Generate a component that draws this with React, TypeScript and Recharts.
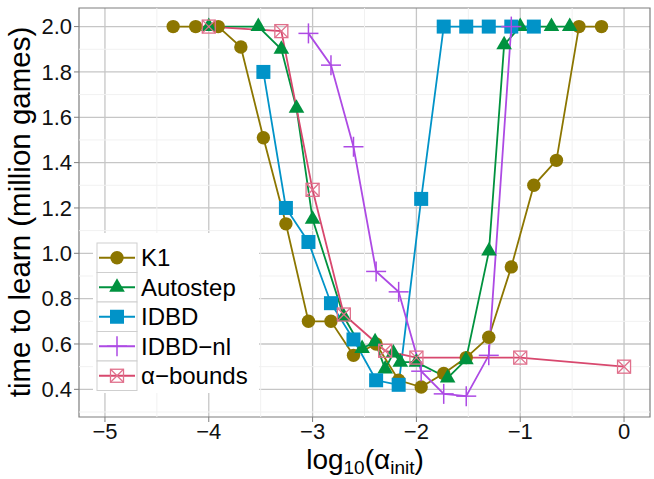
import React from 'react';
import { LineChart, Line, XAxis, YAxis, CartesianGrid, ReferenceLine, ReferenceArea } from 'recharts';

// ---------- data ----------
const SERIES_NAMES = ['K1', 'Autostep', 'IDBD', 'IDBD−nl', 'α−bounds'];

const K1_X = [-4.343, -4.126, -3.909, -3.691, -3.474, -3.257, -3.040, -2.823, -2.606, -2.388, -2.171, -1.954, -1.737, -1.520, -1.303, -1.086, -0.869, -0.651, -0.434, -0.217];
const K1_Y = [2.0, 2.0, 2.0, 1.91, 1.51, 1.13, 0.70, 0.70, 0.55, 0.60, 0.44, 0.41, 0.47, 0.54, 0.63, 0.94, 1.30, 1.41, 2.0, 2.0];

const AUTOSTEP_X = [-4.0, -3.523, -3.301, -3.155, -3.0, -2.699, -2.523, -2.398, -2.301, -2.222, -2.155, -2.0, -1.699, -1.523, -1.301, -1.155, -1.0, -0.699, -0.523];
const AUTOSTEP_Y = [2.0, 2.0, 1.90, 1.64, 1.15, 0.72, 0.58, 0.61, 0.49, 0.56, 0.52, 0.52, 0.45, 0.53, 1.01, 1.92, 2.0, 2.0, 2.0];

const IDBD_X = [-3.474, -3.257, -3.040, -2.823, -2.606, -2.388, -2.171, -1.954, -1.737, -1.520, -1.303, -1.086, -0.869];
const IDBD_Y = [1.80, 1.20, 1.05, 0.78, 0.62, 0.44, 0.42, 1.24, 2.0, 2.0, 2.0, 2.0, 2.0];

const IDBDNL_X = [-3.040, -2.823, -2.606, -2.388, -2.171, -1.954, -1.737, -1.520, -1.303, -1.086];
const IDBDNL_Y = [1.97, 1.83, 1.47, 0.92, 0.83, 0.48, 0.38, 0.37, 0.55, 2.0];

const ABOUNDS_X = [-4.0, -3.301, -3.0, -2.699, -2.301, -2.0, -1.0, 0.0];
const ABOUNDS_Y = [2.0, 1.98, 1.28, 0.73, 0.57, 0.54, 0.54, 0.50];

const X_TICKS = [-5, -4, -3, -2, -1, 0];
const Y_TICKS = [0.4, 0.6, 0.8, 1.0, 1.2, 1.4, 1.6, 1.8, 2.0];
const X_MINOR = [-4.5, -3.5, -2.5, -1.5, -0.5];
const Y_MINOR = [0.3, 0.5, 0.7, 0.9, 1.1, 1.3, 1.5, 1.7, 1.9];

const Y_TITLE = 'time to learn (million games)';

// ---------- helpers ----------
const toPts = (xs: number[], ys: number[]) => xs.map((x, i) => ({ x, y: ys[i] }));

const C_K1 = '#8C7600';
const C_AUTO = '#00923F';
const C_IDBD = '#0193C8';
const C_NL = '#AD4AE4';
const C_AB = '#D8486E';
const C_AB_MARK = '#E0708C';

const FONT = '"Liberation Sans", Arial, sans-serif';

type Shape = 'circle' | 'triangle' | 'square' | 'plus' | 'boxx';

const Marker = ({ shape, cx, cy, color }: { shape: Shape; cx: number; cy: number; color: string }) => {
  switch (shape) {
    case 'circle':
      return <circle cx={cx} cy={cy} r={6.7} fill={color} />;
    case 'triangle':
      return <polygon points={`${cx},${cy - 9} ${cx - 7.8},${cy + 4.5} ${cx + 7.8},${cy + 4.5}`} fill={color} />;
    case 'square':
      return <rect x={cx - 7} y={cy - 7} width={14} height={14} fill={color} />;
    case 'plus':
      return (
        <g stroke={color} strokeWidth={1.5}>
          <line x1={cx - 10} y1={cy} x2={cx + 10} y2={cy} />
          <line x1={cx} y1={cy - 10} x2={cx} y2={cy + 10} />
        </g>
      );
    case 'boxx':
      return (
        <g stroke={color} strokeWidth={1.3} fill="none">
          <rect x={cx - 6.5} y={cy - 6.5} width={13} height={13} />
          <line x1={cx - 6.5} y1={cy - 6.5} x2={cx + 6.5} y2={cy + 6.5} />
          <line x1={cx - 6.5} y1={cy + 6.5} x2={cx + 6.5} y2={cy - 6.5} />
        </g>
      );
  }
  return null;
};

const makeDot = (shape: Shape, color: string) => (props: any) => {
  const { cx, cy, index } = props;
  if (cx == null || cy == null) return <g key={`d-${index}`} />;
  return (
    <g key={`d-${shape}-${index}`}>
      <Marker shape={shape} cx={cx} cy={cy} color={color} />
    </g>
  );
};

const SERIES = [
  { name: SERIES_NAMES[0], data: toPts(K1_X, K1_Y), color: C_K1, mark: C_K1, shape: 'circle' as Shape },
  { name: SERIES_NAMES[1], data: toPts(AUTOSTEP_X, AUTOSTEP_Y), color: C_AUTO, mark: C_AUTO, shape: 'triangle' as Shape },
  { name: SERIES_NAMES[2], data: toPts(IDBD_X, IDBD_Y), color: C_IDBD, mark: C_IDBD, shape: 'square' as Shape },
  { name: SERIES_NAMES[3], data: toPts(IDBDNL_X, IDBDNL_Y), color: C_NL, mark: C_NL, shape: 'plus' as Shape },
  { name: SERIES_NAMES[4], data: toPts(ABOUNDS_X, ABOUNDS_Y), color: C_AB, mark: C_AB_MARK, shape: 'boxx' as Shape },
];

const X_DOMAIN: [number, number] = [-5.25, 0.25];
const Y_DOMAIN: [number, number] = [0.278, 2.082];

const fmtX = (v: number) => (v < 0 ? '−' + Math.abs(v) : String(v));
const fmtY = (v: number) => v.toFixed(1);

export default function App() {
  const W = 654;
  const H = 479;
  const legendLeft = 93;
  const legendTop = 233;
  const rowH = 29.5;
  return (
    <div style={{ position: 'absolute', left: 0, top: 0, width: W, height: H, background: '#fff', fontFamily: FONT }}>
      <LineChart width={W} height={H} margin={{ top: 8, right: 4, bottom: 0, left: 0 }}>
        {X_MINOR.map((v) => (
          <ReferenceLine key={`xm${v}`} x={v} stroke="#f1f1f1" strokeWidth={1} />
        ))}
        {Y_MINOR.map((v) => (
          <ReferenceLine key={`ym${v}`} y={v} stroke="#f1f1f1" strokeWidth={1} />
        ))}
        <CartesianGrid stroke="#c6c6c6" strokeWidth={1.3} horizontalValues={Y_TICKS} verticalValues={X_TICKS} />
        <XAxis
          type="number"
          dataKey="x"
          domain={X_DOMAIN}
          ticks={X_TICKS}
          allowDataOverflow
          height={62}
          tickSize={5}
          tickMargin={1}
          tickFormatter={fmtX}
          axisLine={false}
          tickLine={{ stroke: '#7f7f7f' }}
          tick={{ fill: '#111', fontSize: 22, fontFamily: FONT }}
        />
        <YAxis
          type="number"
          dataKey="y"
          domain={Y_DOMAIN}
          ticks={Y_TICKS}
          allowDataOverflow
          width={79}
          tickSize={5}
          tickMargin={2}
          tickFormatter={fmtY}
          axisLine={false}
          tickLine={{ stroke: '#7f7f7f' }}
          tick={{ fill: '#111', fontSize: 22, fontFamily: FONT }}
        />
        <ReferenceArea x1={X_DOMAIN[0]} x2={X_DOMAIN[1]} y1={Y_DOMAIN[0]} y2={Y_DOMAIN[1]} fill="none" fillOpacity={0} stroke="#7f7f7f" strokeWidth={1.2} />
        {SERIES.map((s) => (
          <Line
            key={s.name}
            data={s.data}
            dataKey="y"
            name={s.name}
            type="linear"
            stroke={s.color}
            strokeWidth={1.8}
            dot={makeDot(s.shape, s.mark)}
            activeDot={false}
            isAnimationActive={false}
          />
        ))}
      </LineChart>
      <svg width={W} height={H} style={{ position: 'absolute', left: 0, top: 0, pointerEvents: 'none' }}>
        {/* legend */}
        <rect x={legendLeft} y={legendTop} width={166} height={160} fill="#fff" />
        {SERIES.map((s, i) => {
          const y0 = legendTop + 10 + i * rowH;
          const cy = y0 + rowH / 2;
          return (
            <g key={`lg${i}`}>
              <rect x={97} y={y0} width={40} height={rowH} fill="#fff" stroke="#cfcfcf" strokeWidth={1} />
              <line x1={99} y1={cy} x2={135} y2={cy} stroke={s.color} strokeWidth={1.8} />
              <Marker shape={s.shape} cx={117} cy={cy} color={s.mark} />
              <text x={141} y={cy + 8.5} fontSize={24} fontFamily={FONT} fill="#000">
                {s.name}
              </text>
            </g>
          );
        })}
        {/* axis titles */}
        <text x={365} y={469} textAnchor="middle" fontSize={28} fontFamily={FONT} fill="#000">
          log<tspan fontSize={19} dy={5}>10</tspan>
          <tspan dy={-5}>(α</tspan>
          <tspan fontSize={19} dy={5}>init</tspan>
          <tspan dy={-5}>)</tspan>
        </text>
        <text
          x={0}
          y={0}
          transform={`translate(30, 212) rotate(-90)`}
          textAnchor="middle"
          fontSize={29.5}
          fontFamily={FONT}
          fill="#000"
        >
          {Y_TITLE}
        </text>
      </svg>
    </div>
  );
}
